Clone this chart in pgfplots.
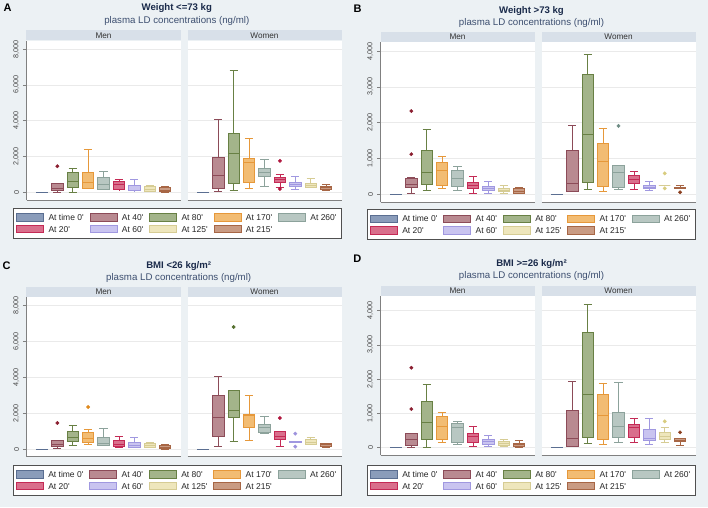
\documentclass[border=0pt]{standalone}
\usepackage{pgfplots}
\pgfplotsset{compat=1.18}
\usepackage{fontspec}
\setmainfont{Liberation Sans}

\definecolor{bgcol}{RGB}{236,241,244}
\definecolor{stripcol}{RGB}{216,224,233}
\definecolor{axcol}{RGB}{128,128,128}
\definecolor{gridcol}{RGB}{234,234,234}
\definecolor{tickcol}{RGB}{70,70,70}
\definecolor{titlecol}{RGB}{26,42,74}
\definecolor{subcol}{RGB}{61,79,112}
\definecolor{legcol}{RGB}{80,80,80}
\definecolor{e1}{RGB}{90,110,145}  \definecolor{f1}{RGB}{138,156,186}
\definecolor{e2}{RGB}{140,75,88}   \definecolor{f2}{RGB}{185,138,145}
\definecolor{e3}{RGB}{104,128,68}  \definecolor{f3}{RGB}{163,180,138}
\definecolor{e4}{RGB}{230,152,58}  \definecolor{f4}{RGB}{242,188,115}
\definecolor{e5}{RGB}{140,162,155} \definecolor{f5}{RGB}{184,199,194}
\definecolor{e6}{RGB}{196,42,85}   \definecolor{f6}{RGB}{217,111,140}
\definecolor{e7}{RGB}{160,152,224} \definecolor{f7}{RGB}{201,196,240}
\definecolor{e8}{RGB}{214,204,148} \definecolor{f8}{RGB}{238,230,188}
\definecolor{e9}{RGB}{167,102,69}  \definecolor{f9}{RGB}{201,155,131}
\definecolor{o2}{RGB}{139,30,48}
\definecolor{o3}{RGB}{85,112,47}
\definecolor{o4}{RGB}{224,138,30}
\definecolor{o5}{RGB}{110,140,132}
\definecolor{o6}{RGB}{176,22,62}
\definecolor{o7}{RGB}{157,147,221}
\definecolor{o8}{RGB}{216,204,126}
\definecolor{o9}{RGB}{139,62,30}

\newcommand\titlef{\fontsize{9.6}{11}\selectfont\bfseries}
\newcommand\subf{\fontsize{9.7}{11}\selectfont}
\newcommand\letf{\fontsize{11}{12}\selectfont\bfseries}
\newcommand\stripf{\fontsize{8.2}{9}\selectfont}
\newcommand\tickf{\fontsize{7.2}{8}\selectfont}
\newcommand\legf{\fontsize{8.5}{9}\selectfont}

\pgfplotsset{
 s1/.style={draw=e1,line width=0.8pt},
 s2/.style={draw=e2,line width=0.8pt},
 s3/.style={draw=e3,line width=0.8pt},
 s4/.style={draw=e4,line width=0.8pt},
 s5/.style={draw=e5,line width=0.8pt},
 s6/.style={draw=e6,line width=0.8pt},
 s7/.style={draw=e7,line width=0.8pt},
 s8/.style={draw=e8,line width=0.8pt},
 s9/.style={draw=e9,line width=0.8pt},
 sw/.style 2 args={legend image code/.code={\draw[line width=0.8pt,draw=#1,fill=#2] (0pt,-3.7pt) rectangle (27pt,3.7pt);}},
 panel/.style={scale only axis, width=154pt, anchor=south west,
   xmin=0, xmax=10, xtick=\empty,
   axis background/.style={fill=white},
   axis x line*=bottom, axis y line*=left,
   axis line style={draw=axcol, line width=0.7pt},
   ymajorgrids, major grid style={draw=gridcol, line width=0.6pt},
   tick align=outside, major tick length=3.5pt,
   ytick style={draw=axcol, line width=0.6pt},
   yticklabel style={font=\tickf, text=tickcol, rotate=90, anchor=south, inner sep=1pt},
   yticklabel shift=2.5pt,
   /pgf/number format/.cd, 1000 sep={,}, assume math mode=true, /pgfplots/.cd,
   scaled y ticks=false,
   every axis title/.style={at={(0.5,1)}, anchor=south, fill=stripcol, minimum width=154pt, minimum height=10pt, inner sep=0pt, font=\stripf, text=black!80},
   legend columns=5, legend cell align=left,
   legend style={draw=legcol, line width=0.7pt, fill=white, font=\legf, text=black!85,
     inner xsep=3pt, inner ysep=5pt, row sep=3.5pt,
     nodes={inner xsep=2pt, inner ysep=0.5pt, text height=6.1pt, text depth=0pt},
     /tikz/every odd column/.append style={column sep=2.4pt},
     /tikz/every even column/.append style={column sep=4pt}},
 },
 men/.style={panel, title=Men},
 women/.style={panel, title=Women, yticklabels={}, ytick style={draw=none}, y axis line style={draw=none}},
}

% box: #1 series no., #2 position, #3 lower whisker, #4 lower quartile, #5 median, #6 upper quartile, #7 upper whisker
\newcommand\bx[7]{%
 \pgfmathsetmacro\xa{#2-0.375}\pgfmathsetmacro\xb{#2+0.375}%
 \pgfmathsetmacro\wa{#2-0.27}\pgfmathsetmacro\wb{#2+0.27}%
 \edef\doit{%
  \noexpand\addplot[s#1,fill=f#1,forget plot] coordinates {(\xa,#4) (\xb,#4) (\xb,#6) (\xa,#6)} --cycle;
  \noexpand\addplot[s#1,forget plot] coordinates {(\xa,#5) (\xb,#5)};
  \noexpand\addplot[s#1,forget plot] coordinates {(#2,#3) (#2,#4)};
  \noexpand\addplot[s#1,forget plot] coordinates {(#2,#6) (#2,#7)};
  \noexpand\addplot[s#1,forget plot] coordinates {(\wa,#3) (\wb,#3)};
  \noexpand\addplot[s#1,forget plot] coordinates {(\wa,#7) (\wb,#7)};
 }\doit}
\newcommand\outl[3]{\addplot[only marks,mark=*,mark size=1.7pt,color=#1,forget plot] coordinates {(#2,#3)};}
\newcommand\legs{%
 \addlegendimage{sw={e1}{f1}}\addlegendentry{At time 0\textquotesingle}
 \addlegendimage{sw={e2}{f2}}\addlegendentry{At 40\textquotesingle}
 \addlegendimage{sw={e3}{f3}}\addlegendentry{At 80\textquotesingle}
 \addlegendimage{sw={e4}{f4}}\addlegendentry{At 170\textquotesingle}
 \addlegendimage{sw={e5}{f5}}\addlegendentry{At 260\textquotesingle}
 \addlegendimage{sw={e6}{f6}}\addlegendentry{At 20\textquotesingle}
 \addlegendimage{sw={e7}{f7}}\addlegendentry{At 60\textquotesingle}
 \addlegendimage{sw={e8}{f8}}\addlegendentry{At 125\textquotesingle}
 \addlegendimage{sw={e9}{f9}}\addlegendentry{At 215\textquotesingle}
}

\begin{document}
\begin{tikzpicture}
\fill[bgcol] (0pt,0pt) rectangle (708pt,507pt);

% ---------- Panel A ----------
\node[font=\letf, anchor=center] at (7.5pt,499.5pt) {A};
\node[font=\titlef, text=titlecol, anchor=base] at (176.8pt,496pt) {Weight <=73 kg};
\node[font=\subf, text=subcol, anchor=base] at (176.8pt,483.8pt) {plasma LD concentrations (ng/ml)};
\begin{axis}[men, at={(26.5pt,307pt)}, height=159.3pt, ymin=-431, ymax=8464, ytick={0,2000,4000,6000,8000},
  legend style={at={(-0.0877,-0.0502)}, anchor=north west}]
\legs
\bx{1}{1}{0}{0}{0}{0}{0}
\bx{2}{2}{0}{93}{224}{485}{485}      \outl{o2}{2}{1455}
\bx{3}{3}{0}{280}{634}{1100}{1343}
\bx{4}{4}{230}{242}{560}{1119}{2387}
\bx{5}{5}{150}{150}{466}{858}{1156}
\bx{6}{6}{140}{150}{430}{615}{727}
\bx{7}{7}{80}{93}{130}{392}{709}
\bx{8}{8}{56}{75}{186}{354}{392}
\bx{9}{9}{19}{37}{130}{280}{317}
\end{axis}
\begin{axis}[women, at={(187.5pt,307pt)}, height=159.3pt, ymin=-431, ymax=8464, ytick={0,2000,4000,6000,8000}]
\bx{1}{1}{0}{0}{0}{0}{0}
\bx{2}{2}{37}{205}{951}{1958}{4084}
\bx{3}{3}{112}{485}{2182}{3301}{6826}
\bx{4}{4}{242}{541}{1679}{1902}{3003}
\bx{5}{5}{317}{914}{1100}{1324}{1846}
\bx{6}{6}{298}{578}{709}{839}{1026}   \outl{o6}{6}{1753} \outl{o6}{6}{186}
\bx{7}{7}{168}{336}{466}{578}{895}
\bx{8}{8}{290}{298}{410}{522}{783}
\bx{9}{9}{112}{186}{280}{354}{448}
\end{axis}

% ---------- Panel B ----------
\node[font=\letf, anchor=center] at (357.7pt,498.7pt) {B};
\node[font=\titlef, text=titlecol, anchor=base] at (531.5pt,493.7pt) {Weight >73 kg};
\node[font=\subf, text=subcol, anchor=base] at (531.5pt,481.7pt) {plasma LD concentrations (ng/ml)};
\begin{axis}[men, at={(380.5pt,305pt)}, height=159.7pt, ymin=-224, ymax=4252, ytick={0,1000,2000,3000,4000},
  legend style={at={(-0.0896,-0.0457)}, anchor=north west}]
\legs
\bx{1}{1}{0}{0}{0}{0}{0}
\bx{2}{2}{19}{186}{270}{446}{460}    \outl{o2}{2}{2325} \outl{o2}{2}{1116}
\bx{3}{3}{112}{279}{605}{1228}{1823}
\bx{4}{4}{149}{242}{660}{884}{1042}
\bx{5}{5}{102}{214}{437}{670}{772}
\bx{6}{6}{28}{158}{242}{326}{502}
\bx{7}{7}{28}{112}{167}{223}{353}
\bx{8}{8}{28}{84}{112}{158}{242}
\bx{9}{9}{9}{19}{84}{149}{186}
\end{axis}
\begin{axis}[women, at={(541.5pt,305pt)}, height=159.7pt, ymin=-224, ymax=4252, ytick={0,1000,2000,3000,4000}]
\bx{1}{1}{0}{0}{0}{0}{0}
\bx{2}{2}{65}{84}{298}{1209}{1925}
\bx{3}{3}{140}{326}{1665}{3348}{3906}
\bx{4}{4}{84}{205}{921}{1414}{1841}
\bx{5}{5}{140}{186}{605}{791}{791}     \outl{o5}{5}{1907}
\bx{6}{6}{140}{298}{409}{530}{632}
\bx{7}{7}{102}{149}{195}{251}{363}
\bx{8}{8}{251}{251}{251}{251}{251}     \outl{o8}{8}{577} \outl{o8}{8}{158}
\bx{9}{9}{149}{149}{177}{195}{233}     \outl{o9}{9}{47}
\end{axis}

% ---------- Panel C ----------
\node[font=\letf, anchor=center] at (6.5pt,241.5pt) {C};
\node[font=\titlef, text=titlecol, anchor=base] at (178.7pt,238.7pt) {BMI <26 kg/m²};
\node[font=\subf, text=subcol, anchor=base] at (178.7pt,227pt) {plasma LD concentrations (ng/ml)};
\begin{axis}[men, at={(26.5pt,50.3pt)}, height=159.4pt, ymin=-410, ymax=8427, ytick={0,2000,4000,6000,8000},
  legend style={at={(-0.0896,-0.052)}, anchor=north west}]
\legs
\bx{1}{1}{0}{0}{0}{0}{0}
\bx{2}{2}{55}{185}{296}{480}{500}    \outl{o2}{2}{1460}
\bx{3}{3}{222}{425}{647}{998}{1331}
\bx{4}{4}{259}{370}{591}{924}{1109}  \outl{o4}{4}{2347}
\bx{5}{5}{203}{222}{314}{665}{1146}
\bx{6}{6}{129}{148}{296}{480}{721}
\bx{7}{7}{92}{111}{240}{407}{684}
\bx{8}{8}{92}{92}{203}{314}{370}
\bx{9}{9}{18}{37}{111}{203}{277}
\end{axis}
\begin{axis}[women, at={(187.5pt,50.3pt)}, height=159.4pt, ymin=-410, ymax=8427, ytick={0,2000,4000,6000,8000}]
\bx{1}{1}{0}{0}{0}{0}{0}
\bx{2}{2}{166}{702}{1774}{2994}{4066}
\bx{3}{3}{462}{1774}{2162}{3271}{3271}  \outl{o3}{3}{6782}
\bx{4}{4}{517}{1220}{1866}{1940}{2994}
\bx{5}{5}{905}{961}{1201}{1404}{1848}
\bx{6}{6}{166}{573}{702}{1016}{1016}    \outl{o6}{6}{1737}
\bx{7}{7}{370}{370}{407}{444}{444}      \outl{o7}{7}{868} \outl{o7}{7}{148}
\bx{8}{8}{277}{277}{407}{536}{665}
\bx{9}{9}{129}{185}{259}{314}{333}
\end{axis}

% ---------- Panel D ----------
\node[font=\letf, anchor=center] at (357.3pt,248.7pt) {D};
\node[font=\titlef, text=titlecol, anchor=base] at (531.5pt,240.3pt) {BMI >=26 kg/m²};
\node[font=\subf, text=subcol, anchor=base] at (531.5pt,228.7pt) {plasma LD concentrations (ng/ml)};
\begin{axis}[men, at={(380.5pt,52pt)}, height=159.3pt, ymin=-213, ymax=4438, ytick={0,1000,2000,3000,4000},
  legend style={at={(-0.0896,-0.0628)}, anchor=north west}]
\legs
\bx{1}{1}{0}{0}{0}{0}{0}
\bx{2}{2}{10}{78}{243}{428}{428}     \outl{o2}{2}{2335} \outl{o2}{2}{1129}
\bx{3}{3}{10}{234}{749}{1362}{1839}
\bx{4}{4}{165}{234}{623}{915}{1041}
\bx{5}{5}{107}{146}{594}{710}{769}
\bx{6}{6}{39}{165}{321}{428}{623}
\bx{7}{7}{29}{97}{175}{253}{360}
\bx{8}{8}{29}{58}{136}{195}{243}
\bx{9}{9}{10}{29}{97}{136}{204}
\end{axis}
\begin{axis}[women, at={(541.5pt,52pt)}, height=159.3pt, ymin=-213, ymax=4438, ytick={0,1000,2000,3000,4000}]
\bx{1}{1}{0}{0}{0}{0}{0}
\bx{2}{2}{39}{49}{272}{1090}{1936}
\bx{3}{3}{126}{311}{1557}{3357}{4184}
\bx{4}{4}{97}{243}{934}{1567}{1888}
\bx{5}{5}{146}{311}{632}{1031}{1907}
\bx{6}{6}{146}{302}{584}{671}{847}
\bx{7}{7}{107}{214}{263}{535}{847}
\bx{8}{8}{165}{234}{331}{457}{584}     \outl{o8}{8}{769}
\bx{9}{9}{58}{175}{224}{272}{272}      \outl{o9}{9}{448}
\end{axis}

\pgfresetboundingbox
\useasboundingbox (0pt,0pt) rectangle (708pt,507pt);
\end{tikzpicture}
\end{document}
